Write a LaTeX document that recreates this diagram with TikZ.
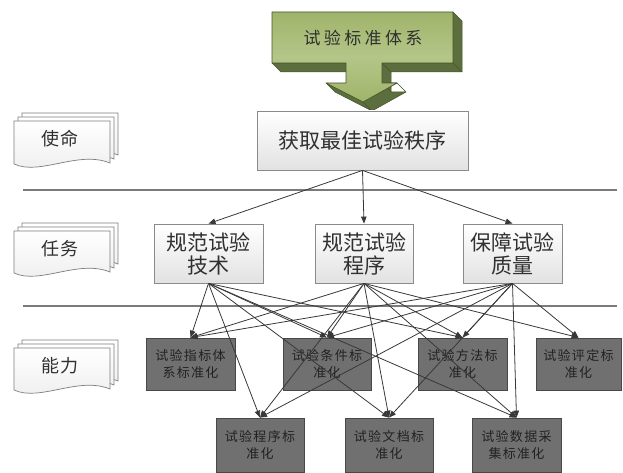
\documentclass[tikz,border=0pt]{standalone}
\usepackage{fontspec}
\newfontfamily\cjk{Noto Sans CJK SC}
\newfontfamily\cjksp[LetterSpace=20]{Noto Sans CJK SC}
\newfontfamily\cjkcap[LetterSpace=10]{Noto Sans CJK SC}
\newfontfamily\cjkdoc[LetterSpace=10]{Noto Sans CJK SC}
\usetikzlibrary{arrows.meta}
\definecolor{boxborder}{HTML}{8A8A8A}
\definecolor{boxbottom}{HTML}{E2E2E2}
\definecolor{txt}{HTML}{303030}
\definecolor{capfill}{HTML}{707070}
\definecolor{capborder}{HTML}{484848}
\definecolor{captext}{HTML}{222222}
\definecolor{edgecol}{HTML}{383838}
\definecolor{sepcol}{HTML}{7A7A7A}
\definecolor{docborder}{HTML}{7E7E7E}
\definecolor{gfront}{HTML}{9FB46A}
\definecolor{glight}{HTML}{B4C688}
\definecolor{gdark}{HTML}{5C6E3D}
\definecolor{gline}{HTML}{46552D}
\newcommand{\docshape}[4]{% x1, ytop, x2, ybottom
  \pgfmathsetmacro\dw{(#3)-(#1)}
  \path[docpage] (#1,#2) -- (#3,#2) -- (#3,#4-1)
    .. controls ({#3-0.33*\dw},{#4-14}) and ({#1+0.27*\dw},{#4+12}) .. (#1,#4) -- cycle;
}
\newcommand{\mdoc}[6]{% name, x1, ytop, x2, ybottom, text
  \docshape{#2+8}{#3-8}{#4+8}{#5-8}
  \docshape{#2+4}{#3-4}{#4+4}{#5-4}
  \docshape{#2}{#3}{#4}{#5}
  \node[doctext] (#1) at ({(#2+#4)/2-2},{#3+18}) {#6};
}
\begin{document}
\begin{tikzpicture}[x=1pt,y=-1pt,
  box/.style={draw=boxborder, line width=0.8pt, top color=white, bottom color=boxbottom,
    inner sep=0pt, align=center, text=txt, font=\cjk\fontsize{21}{23}\selectfont},
  capbox/.style={draw=capborder, line width=0.8pt, fill=capfill, inner sep=0pt, align=center,
    text=captext, minimum height=52pt, font=\cjkcap\fontsize{13}{17}\selectfont},
  edge/.style={draw=edgecol, line width=0.8pt, -{Triangle[length=7pt,width=5.5pt]}},
  sepline/.style={draw=sepcol, line width=1.3pt},
  docpage/.style={draw=docborder, line width=0.7pt, top color=white, bottom color=gray!14},
  doctext/.style={text=txt, inner sep=0pt, font=\cjkdoc\fontsize{18}{20}\selectfont},
  gface/.style={fill=gdark, draw=gline, line width=0.5pt, line join=round},
  gfrontface/.style={top color=gfront, bottom color=gfront, middle color=glight,
    draw=gline, line width=0.6pt, line join=round}
]
\useasboundingbox (0,0) rectangle (623,473);

% 3D block arrow
\path[gface]
  (453,12) -- (462,21) -- (462,72) -- (453,63) -- cycle
  (272,63) -- (346,63) -- (355,72) -- (281,72) -- cycle
  (382,63) -- (453,63) -- (462,72) -- (391,72) -- cycle
  (382,63) -- (391,72) -- (391,92) -- (382,83) -- cycle
  (382,83) -- (397,83) -- (406,92) -- (391,92) -- cycle
  (397,83) -- (363,102) -- (372,111) -- (406,92) -- cycle
  (363,102) -- (326,83) -- (335,92) -- (372,111) -- cycle;
\path[gfrontface] (272,12) -- (453,12) -- (453,63) -- (382,63) -- (382,83) -- (397,83)
  -- (363,102) -- (326,83) -- (346,83) -- (346,63) -- (272,63) -- cycle;
\node[text=txt, font=\cjksp\fontsize{17}{19}\selectfont, inner sep=0pt] (sys) at (363,38) {试验标准体系};

% separator lines
\coordinate (s1l) at (23,190); \coordinate (s1r) at (617,190);
\coordinate (s2l) at (23,306); \coordinate (s2r) at (617,306);
\draw[sepline] (s1l) -- (s1r);
\draw[sepline] (s2l) -- (s2r);

% multi-document labels
\mdoc{mis}{14}{121}{110}{164}{使命}
\mdoc{task}{14}{231}{110}{273}{任务}
\mdoc{abil}{14}{348}{110}{390}{能力}

% mission and tasks
\node[box, minimum width=211pt, minimum height=59pt] (m) at (362.5,140.5) {获取最佳试验秩序};
\node[box, minimum width=109pt, minimum height=59pt] (t1) at (208.5,253.5) {规范试验\\技术};
\node[box, minimum width=98pt, minimum height=59pt] (t2) at (364,253.5) {规范试验\\程序};
\node[box, minimum width=99pt, minimum height=59pt] (t3) at (512.5,253.5) {保障试验\\质量};

% capabilities
\node[capbox, minimum width=89pt] (a) at (190.5,364) {试验指标体\\系标准化};
\node[capbox, minimum width=88pt] (b) at (327,364) {试验条件标\\准化};
\node[capbox, minimum width=89pt] (c) at (462.5,364) {试验方法标\\准化};
\node[capbox, minimum width=85pt] (d) at (578.5,364) {试验评定标\\准化};
\node[capbox, minimum width=88pt, minimum height=54pt] (e) at (260,445) {试验程序标\\准化};
\node[capbox, minimum width=88pt, minimum height=54pt] (f) at (389,445) {试验文档标\\准化};
\node[capbox, minimum width=89pt, minimum height=54pt] (g) at (516.5,445) {试验数据采\\集标准化};

% connectors
\draw[edge] (m.south) -- (t1.north);
\draw[edge] (m.south) -- (t2.north);
\draw[edge] (m.south) -- (t3.north);
\foreach \k in {a,b,c,e,f,g}
  \draw[edge] (t1.south) -- (\k.north);
\foreach \t in {t2,t3}
  \foreach \k in {a,b,c,d,e,f,g}
    \draw[edge] (\t.south) -- (\k.north);
\end{tikzpicture}
\end{document}
